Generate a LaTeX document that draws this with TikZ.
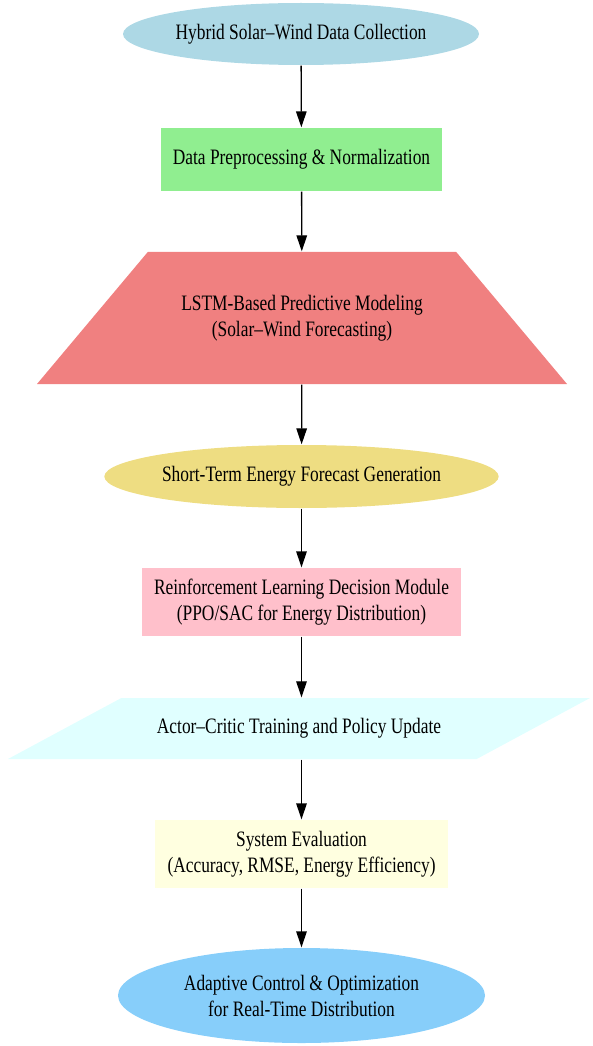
\PassOptionsToPackage{svgnames}{xcolor}
\documentclass[tikz,border=0pt]{standalone}
\usepackage{fontspec}
\setmainfont{Liberation Serif}[FakeStretch=0.79]
\usetikzlibrary{arrows.meta,shapes.geometric}
\definecolor{Goldenrodlt}{HTML}{EEDD82}

\begin{document}
\begin{tikzpicture}[x=1pt, y=-1pt, -{Triangle[length=16pt,width=10.5pt]}, line width=1.3pt,
      every node/.append style={font=\fontsize{22}{26}\selectfont,align=center,inner sep=0pt},
      terminal/.style={ellipse,fill=#1},
      stepbox/.style={rectangle,fill=#1},
      slanted/.style={trapezium,trapezium stretches body,fill=#1}]
    \useasboundingbox (0,0) rectangle (592,1046);
    \node (collect) [terminal=LightBlue,minimum width=356pt,minimum height=62pt] at (301,34) {Hybrid Solar--Wind Data Collection};
    \node (prep) [stepbox=LightGreen,minimum width=281pt,minimum height=63pt] at (301.5,159.5) {Data Preprocessing \& Normalization};
    \node (lstm) [slanted=LightCoral,trapezium left angle=50,trapezium right angle=50,
      inner ysep=43pt,minimum width=530pt] at (302,318) {LSTM-Based Predictive Modeling\\(Solar--Wind Forecasting)};
    \node (forecast) [terminal=Goldenrodlt,minimum width=393pt,minimum height=63pt] at (301.5,476.5) {Short-Term Energy Forecast Generation};
    \node (rlmod) [stepbox=Pink,minimum width=319pt,minimum height=68pt] at (301.5,602) {Reinforcement Learning Decision Module\\(PPO/SAC for Energy Distribution)};
    \node (actor) [slanted=LightCyan,trapezium left angle=28.3,trapezium right angle=151.7,
      inner ysep=20.5pt,minimum width=582pt] at (299,728.5) {Actor--Critic Training and Policy Update};
    \node (evalsys) [stepbox=LightYellow,minimum width=293pt,minimum height=68pt] at (301.5,854) {System Evaluation\\(Accuracy, RMSE, Energy Efficiency)};
    \node (adapt) [terminal=LightSkyBlue,minimum width=367pt,minimum height=95pt] at (301.5,995.5) {Adaptive Control \& Optimization\\for Real-Time Distribution};
    \draw (collect) -- (prep);
    \draw (prep) -- (lstm);
    \draw (lstm) -- (forecast);
    \draw (forecast) -- (rlmod);
    \draw (rlmod) -- (rlmod |- actor.north);
    \draw (actor.south -| evalsys) -- (evalsys);
    \draw (evalsys) -- (adapt);
\end{tikzpicture}
\end{document}
